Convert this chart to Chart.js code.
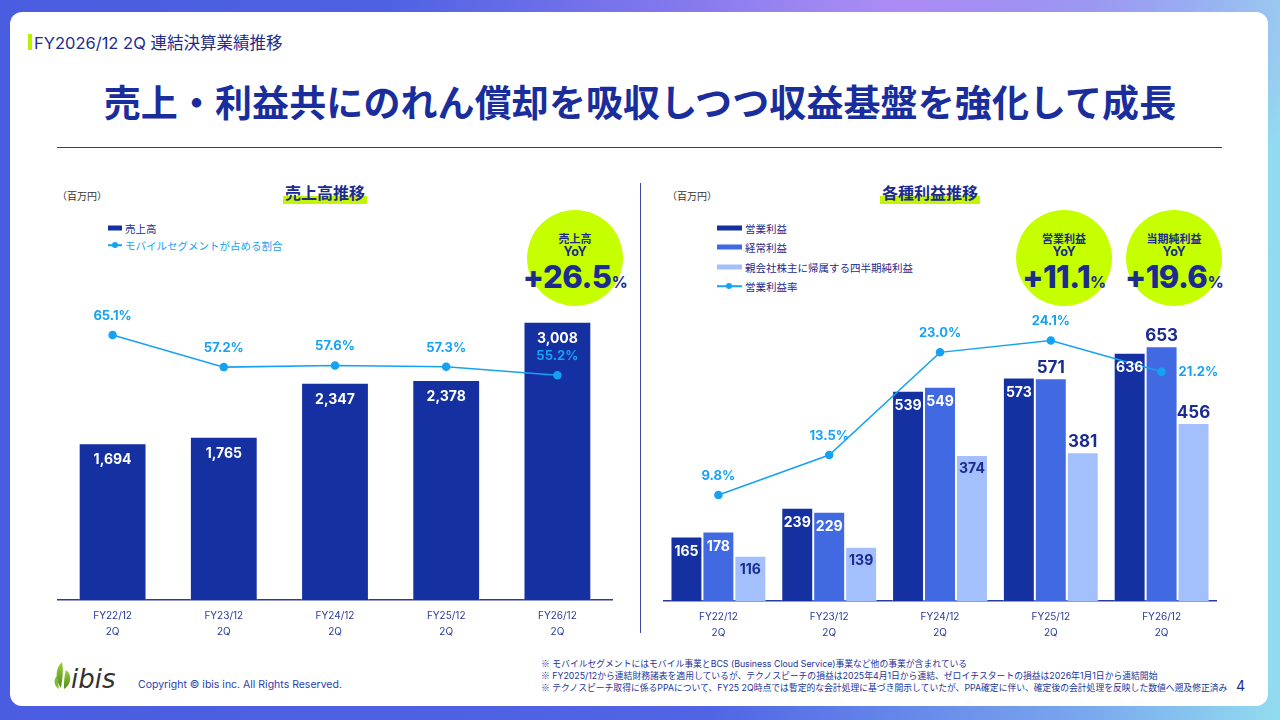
<!DOCTYPE html>
<html lang="ja">
<head>
<meta charset="utf-8">
<script src="https://cdn.jsdelivr.net/npm/chart.js@4.4.1/dist/chart.umd.min.js"></script>
<style>
  html, body { margin: 0; padding: 0; }
  body {
    width: 1280px; height: 720px; position: relative; overflow: hidden;
    font-family: Inter, 'Noto Sans CJK JP', sans-serif;
    background:
      radial-gradient(ellipse 520px 200px at 900px 0px, rgba(180,140,245,0.9), rgba(180,140,245,0) 100%),
      linear-gradient(90deg, #4a5de0 0%, #5064e4 55%, #7aa8ee 85%, #92dcf0 100%);
  }
  .card { position: absolute; left: 10px; top: 12px; width: 1258px; height: 694px; background: #fff; border-radius: 12px; }
  .abs { position: absolute; white-space: nowrap; }
  .navy { color: #1b2b8f; }
  .sky { color: #16a2f2; }
  .hl { font-weight: 700; font-size: 16px; color: #1b2b8f; transform: translate(-50%, -50%);
        background: linear-gradient(transparent 68%, #c4f500 68%, #c4f500 100%); padding: 0 2px; }
  .unit { font-size: 10px; color: #333; transform: translateY(-50%); }
  .lg { font-size: 10.5px; transform: translateY(-50%); }
  .sw { position: absolute; height: 5px; transform: translateY(-50%); }
  .badge { position: absolute; width: 96px; height: 96px; border-radius: 50%; background: #c6ff00; transform: translate(-50%, -50%); color: #1b2b8f; text-align: center; font-weight: 700; }
  .badge .t1 { position: absolute; width: 100%; top: 22px; font-size: 11px; line-height: 14px; }
  .badge .t2 { position: absolute; width: 100%; top: 34px; font-size: 12.5px; line-height: 16px; }
  .badge .t3 { position: absolute; width: 130%; left: -15%; top: 49px; font-size: 31px; line-height: 36px; font-weight: 800; letter-spacing: -0.5px; }
  .badge .t3 small { font-size: 16px; font-weight: 700; }
  .fn { font-size: 8.8px; color: #22349a; transform: translateY(-50%); }
  .fn b { font-weight: 400; font-family: 'Noto Sans CJK JP', sans-serif; }
  canvas { position: absolute; }
</style>
</head>
<body>
<div class="card"></div>

<!-- header -->
<div class="abs" style="left:28px;top:34px;width:4px;height:16px;background:#b9f000;"></div>
<div class="abs navy" style="left:34px;top:42px;transform:translateY(-50%);font-size:16.5px;font-weight:400;">FY2026/12 2Q 連結決算業績推移</div>
<div class="abs" style="left:640px;top:101px;transform:translate(-50%,-50%);font-size:37px;font-weight:700;color:#1a2d9c;letter-spacing:0.1px;">売上・利益共にのれん償却を吸収しつつ収益基盤を強化して成長</div>
<div class="abs" style="left:57px;top:147px;width:1165px;height:1px;background:#2a3b9a;"></div>
<div class="abs" style="left:640px;top:183px;width:1px;height:450px;background:#3a4aa0;"></div>

<!-- left panel -->
<div class="abs unit" style="left:57px;top:195px;">（百万円）</div>
<div class="abs hl" style="left:325px;top:192px;">売上高推移</div>
<div class="sw" style="left:108px;top:228px;width:14px;background:#1530a0;"></div>
<div class="abs lg navy" style="left:125px;top:228px;">売上高</div>
<div class="sw" style="left:108px;top:245px;width:14px;height:1.5px;background:#16a2f2;"></div>
<div class="abs" style="left:112px;top:242px;width:6px;height:6px;border-radius:50%;background:#16a2f2;"></div>
<div class="abs lg sky" style="left:125px;top:245px;">モバイルセグメントが占める割合</div>
<div class="badge" style="left:575px;top:258px;"><div class="t1">売上高</div><div class="t2">YoY</div><div class="t3">+26.5<small>%</small></div></div>

<!-- right panel -->
<div class="abs unit" style="left:667px;top:195px;">（百万円）</div>
<div class="abs hl" style="left:930px;top:192px;">各種利益推移</div>
<div class="sw" style="left:717px;top:228px;width:25px;background:#1530a0;"></div>
<div class="abs lg navy" style="left:745px;top:228px;">営業利益</div>
<div class="sw" style="left:717px;top:247px;width:25px;background:#4169e1;"></div>
<div class="abs lg navy" style="left:745px;top:247px;">経常利益</div>
<div class="sw" style="left:717px;top:267px;width:25px;background:#a3bffc;"></div>
<div class="abs lg navy" style="left:745px;top:267px;">親会社株主に帰属する四半期純利益</div>
<div class="sw" style="left:717px;top:286px;width:25px;height:1.5px;background:#16a2f2;"></div>
<div class="abs" style="left:726px;top:283px;width:6px;height:6px;border-radius:50%;background:#16a2f2;"></div>
<div class="abs lg navy" style="left:745px;top:286px;">営業利益率</div>
<div class="badge" style="left:1064px;top:258px;"><div class="t1">営業利益</div><div class="t2">YoY</div><div class="t3">+11.1<small>%</small></div></div>
<div class="badge" style="left:1174px;top:258px;"><div class="t1">当期純利益</div><div class="t2">YoY</div><div class="t3">+19.6<small>%</small></div></div>

<canvas id="salesChart" width="556" height="360" style="left:57px;top:280px;"></canvas>
<canvas id="profitChart" width="554" height="360" style="left:663px;top:281px;"></canvas>

<!-- footer -->
<svg class="abs" style="left:52px;top:658px;" width="84" height="38" viewBox="0 0 84 38">
  <defs><linearGradient id="lf" x1="0" y1="0" x2="0" y2="1"><stop offset="0" stop-color="#9bd03a"/><stop offset="1" stop-color="#4e8a1c"/></linearGradient></defs>
  <path d="M10 4 C3 10 3 22 9 30 C10 22 12 14 10 4 Z" fill="url(#lf)"/>
  <path d="M14 12 C20 16 20 26 12 31 C12 24 12 18 14 12 Z" fill="url(#lf)"/>
  <path d="M5 18 C1 22 2 28 7 31 C6 27 6 22 5 18 Z" fill="#7dbb2e"/>
  <text x="19" y="30" font-family="DejaVu Sans, sans-serif" font-style="italic" font-size="26" fill="#333">ibis</text>
</svg>
<div class="abs" style="left:138px;top:684px;transform:translateY(-50%);font-size:10.5px;color:#2a40b0;">Copyright © ibis inc. All Rights Reserved.</div>
<div class="abs fn" style="left:541px;top:663px;"><b>※</b> モバイルセグメントにはモバイル事業とBCS (Business Cloud Service)事業など他の事業が含まれている</div>
<div class="abs fn" style="left:541px;top:675px;"><b>※</b> FY2025/12から連結財務諸表を適用しているが、テクノスピーチの損益は2025年4月1日から連結、ゼロイチスタートの損益は2026年1月1日から連結開始</div>
<div class="abs fn" style="left:541px;top:687px;"><b>※</b> テクノスピーチ取得に係るPPAについて、FY25 2Q時点では暫定的な会計処理に基づき開示していたが、PPA確定に伴い、確定後の会計処理を反映した数値へ遡及修正済み</div>
<div class="abs navy" style="left:1236px;top:685px;transform:translateY(-50%);font-size:14px;">4</div>

<script>
// data
const periods = [['FY22/12', '2Q'], ['FY23/12', '2Q'], ['FY24/12', '2Q'], ['FY25/12', '2Q'], ['FY26/12', '2Q']];
const sales = [1694, 1765, 2347, 2378, 3008];
const mobileShare = [65.1, 57.2, 57.6, 57.3, 55.2];
const opProfit = [165, 239, 539, 573, 636];
const ordProfit = [178, 229, 549, 571, 653];
const netProfit = [116, 139, 374, 381, 456];
const opMargin = [9.8, 13.5, 23.0, 24.1, 21.2];

const NAVY = '#1530a0', MID = '#4169e1', LIGHT = '#a3bffc', SKY = '#16a2f2', TXT = '#1b2b8f';
const FONT = "Inter, 'Noto Sans CJK JP', sans-serif";

// draws value labels next to the library's own elements
const valueLabels = {
    id: 'valueLabels',
    afterDatasetsDraw(chart) {
        const ctx = chart.ctx;
        ctx.save();
        ctx.textAlign = 'center';
        ctx.textBaseline = 'middle';
        chart.data.datasets.forEach((ds, di) => {
            const meta = chart.getDatasetMeta(di);
            const lab = ds.lbl;
            if (!lab) return;
            meta.data.forEach((el, i) => {
                const v = ds.data[i];
                let text = lab.fmt ? lab.fmt(v) : String(v);
                let x = el.x, y;
                if (ds.type === 'line') {
                    ctx.font = '700 13px ' + FONT;
                    ctx.fillStyle = SKY;
                    if (lab.rightOf && lab.rightOf[i]) { ctx.textAlign = 'left'; x = el.x + 17; y = el.y; }
                    else { ctx.textAlign = 'center'; y = el.y - 19; }
                    ctx.fillText(text, x, y);
                    return;
                }
                ctx.textAlign = 'center';
                if (lab.above && lab.above[i]) {
                    ctx.font = '700 17px ' + FONT;
                    ctx.fillStyle = TXT;
                    ctx.textBaseline = 'bottom';
                    ctx.fillText(text, x, el.y - 2);
                    ctx.textBaseline = 'middle';
                } else {
                    ctx.font = '700 ' + (lab.size || 14) + 'px ' + FONT;
                    ctx.fillStyle = lab.color;
                    ctx.fillText(text, x, el.y + (lab.inset || 15));
                }
            });
        });
        ctx.restore();
    }
};

function xAxis() {
    return {
        grid: { display: false, drawTicks: false },
        border: { color: '#2a3ba0', width: 1.5 },
        ticks: { color: '#2a3a9a', font: { size: 10, family: FONT, lineHeight: 1.6 }, padding: 8, maxRotation: 0 },
        afterFit: (s) => { s.height = 40; }
    };
}

new Chart(document.getElementById('salesChart'), {
    type: 'bar',
    data: {
        labels: periods,
        datasets: [
            { type: 'line', data: mobileShare, yAxisID: 'y2', order: 0, borderColor: SKY, backgroundColor: SKY, borderWidth: 1.5, pointRadius: 3.5, pointBackgroundColor: SKY, tension: 0,
              lbl: { fmt: v => v.toFixed(1) + '%' } },
            { type: 'bar', data: sales, yAxisID: 'y', order: 1, backgroundColor: NAVY, borderColor: 'rgba(255,255,255,0.35)', borderWidth: 1, barPercentage: 0.61, categoryPercentage: 1,
              lbl: { color: '#fff', inset: 17, fmt: v => v.toLocaleString('en-US') } }
        ]
    },
    options: {
        responsive: false, animation: false, devicePixelRatio: 1,
        layout: { padding: 0, autoPadding: false },
        plugins: { legend: { display: false }, tooltip: { enabled: false } },
        scales: {
            x: xAxis(),
            y: { display: false, min: 0, max: 3459 },
            y2: { display: false, min: 0, max: 78.6 }
        }
    },
    plugins: [valueLabels]
});

const late = [false, false, false, true, true];
new Chart(document.getElementById('profitChart'), {
    type: 'bar',
    data: {
        labels: periods,
        datasets: [
            { type: 'line', data: opMargin, yAxisID: 'y2', order: 0, borderColor: SKY, backgroundColor: SKY, borderWidth: 1.5, pointRadius: 3.5, pointBackgroundColor: SKY, tension: 0,
              lbl: { fmt: v => v.toFixed(1) + '%', rightOf: [false, false, false, false, true] } },
            { type: 'bar', data: opProfit, order: 1, backgroundColor: NAVY, borderColor: 'rgba(255,255,255,0.35)', borderWidth: 1, barPercentage: 1, categoryPercentage: 0.865,
              lbl: { color: '#fff', inset: 15 } },
            { type: 'bar', data: ordProfit, order: 2, backgroundColor: MID, borderColor: 'rgba(255,255,255,0.35)', borderWidth: 1, barPercentage: 1, categoryPercentage: 0.865,
              lbl: { color: '#fff', inset: 15, above: late } },
            { type: 'bar', data: netProfit, order: 3, backgroundColor: LIGHT, borderColor: 'rgba(255,255,255,0.35)', borderWidth: 1, barPercentage: 1, categoryPercentage: 0.865,
              lbl: { color: TXT, inset: 14, above: late } }
        ]
    },
    options: {
        responsive: false, animation: false, devicePixelRatio: 1,
        layout: { padding: 0, autoPadding: false },
        plugins: { legend: { display: false }, tooltip: { enabled: false } },
        scales: {
            x: xAxis(),
            y: { display: false, min: 0, max: 820 },
            y2: { display: false, min: 0, max: 29.6 }
        }
    },
    plugins: [valueLabels]
});
</script>
</body>
</html>
